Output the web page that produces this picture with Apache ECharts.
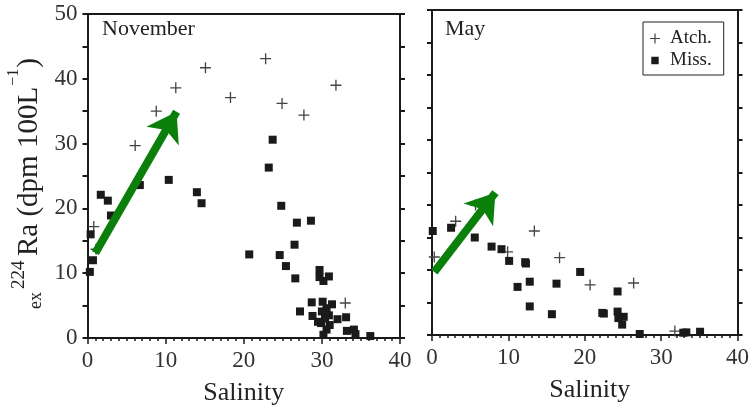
<!DOCTYPE html>
<html>
<head>
<meta charset="utf-8">
<script src="https://cdn.jsdelivr.net/npm/echarts@6/dist/echarts.min.js"></script>
<style>
  html, body { margin: 0; padding: 0; background: #fff; }
  #chart { width: 752px; height: 411px; }
</style>
</head>
<body>
<div id="chart"></div>
<script>
// November panel
var novAtchX = [0.8, 1.1, 6.1, 8.8, 11.3, 15.1, 18.3, 22.8, 24.9, 27.7, 31.8, 33.0]
var novAtchY = [17.2, 13.7, 29.7, 35.0, 38.6, 41.7, 37.1, 43.1, 36.2, 34.4, 39.0, 5.4]
var novMissX = [0.3, 0.7, 0.4, 1.7, 2.6, 3.0, 6.7, 10.4, 14.0, 14.6, 20.7, 23.2, 23.7, 24.8, 24.6, 25.4,
  26.5, 26.6, 26.8, 28.6, 29.7, 29.7, 30.9, 30.2, 28.7, 27.2, 30.1, 31.3, 30.6, 30.0, 28.8, 30.9,
  29.5, 29.9, 30.6, 30.2, 32.0, 33.1, 33.2, 34.1, 34.3, 36.2, 30.4, 31.0]
var novMissY = [10.2, 12.0, 16.0, 22.1, 21.2, 18.9, 23.6, 24.4, 22.5, 20.8, 12.9, 26.3, 30.6, 20.4, 12.8, 11.1,
  14.4, 9.2, 17.8, 18.1, 10.5, 9.4, 9.5, 8.8, 5.5, 4.1, 5.6, 5.2, 4.6, 4.1, 3.4, 3.5,
  2.5, 2.3, 1.3, 0.5, 2.9, 3.2, 1.1, 1.3, 0.6, 0.3, 3.0, 2.0]
var novArrow = [[1.0, 13.1], [11.4, 34.9]]

// May panel
var mayAtchX = [0.3, 3.1, 5.7, 9.9, 13.4, 16.7, 20.7, 26.4, 31.8]
var mayAtchY = [12.0, 17.5, 20.0, 12.8, 16.0, 11.9, 7.7, 8.0, 0.6]
var mayMissX = [0.1, 2.5, 5.6, 7.8, 9.1, 10.1, 12.2, 12.3, 11.2, 12.8, 12.8, 15.7, 16.3, 19.4, 22.3, 22.5,
  24.3, 24.3, 25.1, 24.4, 24.9, 27.2, 32.9, 33.3, 35.1]
var mayMissY = [16.0, 16.5, 15.0, 13.6, 13.2, 11.4, 11.2, 11.0, 7.4, 8.2, 4.4, 3.2, 7.9, 9.7, 3.4, 3.3,
  6.7, 3.6, 2.8, 2.6, 1.6, 0.15, 0.35, 0.4, 0.5]
var mayArrow = [[0.3, 9.7], [8.3, 21.9]]

var xTicks = { min: 0, max: 40, interval: 10 }
var yTicks = { min: 0, max: 50, interval: 10 }

var serif = "'Liberation Serif', 'Times New Roman', serif"
var ink = '#1a1a1a'
var green = '#0a800a'
var plusPath = 'path://M4.4,0h1.2v10h-1.2zM0,4.4h10v1.2h-10z'
// small square, padded with two tiny corner dots so the legend keeps the box at 10x10
var squarePath = 'path://M1.3,1.3h7.4v7.4h-7.4zM0,0h0.01v0.01h-0.01zM9.99,9.99h0.01v0.01h-0.01z'

function pairs(xs, ys) {
  return xs.map(function(x, i) { return [x, ys[i]] })
}

function textWidth(str, size) {
  var ctx = document.createElement('canvas').getContext('2d')
  ctx.font = size + 'px ' + serif
  return ctx.measureText(str).width
}

function xAxis(grid, pos, labels, shift) {
  return {
    type: 'value', gridIndex: grid, position: pos,
    min: xTicks.min, max: xTicks.max, interval: xTicks.interval,
    name: labels ? 'Salinity' : '', nameLocation: 'middle', nameGap: 42,
    nameTextStyle: { fontFamily: serif, fontSize: 26, color: '#222', padding: [0, 0, 0, shift || 0] },
    axisLine: { show: true, onZero: false, lineStyle: { color: ink, width: 2 } },
    axisTick: { show: labels, length: 6, lineStyle: { color: ink, width: 1.5 } },
    minorTick: { show: labels, splitNumber: 10, length: 3, lineStyle: { color: ink, width: 1.5 } },
    axisLabel: { show: labels, fontFamily: serif, fontSize: 23, color: '#333', margin: 11 },
    splitLine: { show: false }
  }
}

function yAxis(grid, pos, labels) {
  return {
    type: 'value', gridIndex: grid, position: pos,
    min: yTicks.min, max: yTicks.max, interval: yTicks.interval,
    axisLine: { show: true, onZero: false, lineStyle: { color: ink, width: 2 } },
    axisTick: { show: true, length: 5, lineStyle: { color: ink, width: 2 } },
    minorTick: { show: true, splitNumber: 2, length: 5, lineStyle: { color: ink, width: 2 } },
    axisLabel: { show: labels, fontFamily: serif, fontSize: 23, color: '#333', margin: 10 },
    splitLine: { show: false }
  }
}

function arrow(pts) {
  return {
    silent: true,
    symbol: ['none', 'arrow'],
    symbolSize: 28,
    label: { show: false },
    lineStyle: { color: green, width: 8, type: 'solid', opacity: 1 },
    data: [[{ coord: pts[0] }, { coord: pts[1] }]]
  }
}

var mainText = 'Ra (dpm 100L'
var mainSize = 29
var mainW = textWidth(mainText, mainSize)
var supW = textWidth('\u22121', 16)

var myChart = echarts.init(document.getElementById('chart'))
var option = {
  animation: false,
  backgroundColor: '#fff',
  textStyle: { fontFamily: serif },
  grid: [
    { left: 87.5, right: 352, top: 14, bottom: 73 },
    { left: 432, right: 9, top: 10, bottom: 76 }
  ],
  xAxis: [
    xAxis(0, 'bottom', true), xAxis(0, 'top', false),
    xAxis(1, 'bottom', true, 10), xAxis(1, 'top', false)
  ],
  yAxis: [
    yAxis(0, 'left', true), yAxis(0, 'right', false),
    yAxis(1, 'left', false), yAxis(1, 'right', false)
  ],
  legend: {
    orient: 'vertical',
    left: 643, top: 22,
    padding: [7, 12, 5, 7],
    itemGap: 3,
    itemWidth: 20, itemHeight: 10,
    borderColor: '#222', borderWidth: 1,
    textStyle: { fontFamily: serif, fontSize: 19, color: '#222' },
    data: [
      { name: 'Atch.', icon: plusPath },
      { name: 'Miss.', icon: squarePath }
    ]
  },
  graphic: [
    { type: 'text', x: 102, y: 18, style: { text: 'November', fontFamily: serif, fontSize: 22, fill: '#222' } },
    { type: 'text', x: 445, y: 18, style: { text: 'May', fontFamily: serif, fontSize: 22, fill: '#222' } },
    // y-axis title, rotated
    { type: 'text', x: 29, y: 256, rotation: Math.PI / 2,
      style: { text: mainText, fontFamily: serif, fontSize: mainSize, fill: '#222', align: 'left', verticalAlign: 'middle' } },
    { type: 'text', x: 14, y: 255 - mainW, rotation: Math.PI / 2,
      style: { text: '\u22121', fontFamily: serif, fontSize: 16, fill: '#222', align: 'left', verticalAlign: 'middle' } },
    { type: 'text', x: 29, y: 254 - mainW - supW, rotation: Math.PI / 2,
      style: { text: ')', fontFamily: serif, fontSize: mainSize, fill: '#222', align: 'left', verticalAlign: 'middle' } },
    { type: 'text', x: 19, y: 289, rotation: Math.PI / 2,
      style: { text: '224', fontFamily: serif, fontSize: 19, fill: '#222', align: 'left', verticalAlign: 'middle' } },
    { type: 'text', x: 36, y: 309, rotation: Math.PI / 2,
      style: { text: 'ex', fontFamily: serif, fontSize: 18, fill: '#222', align: 'left', verticalAlign: 'middle' } }
  ],
  series: [
    {
      name: 'Atch.', type: 'scatter', xAxisIndex: 0, yAxisIndex: 0,
      symbol: plusPath, symbolSize: 11,
      itemStyle: { color: '#444', opacity: 1 },
      data: pairs(novAtchX, novAtchY)
    },
    {
      name: 'Miss.', type: 'scatter', xAxisIndex: 0, yAxisIndex: 0,
      symbol: 'rect', symbolSize: 8,
      itemStyle: { color: ink, opacity: 1 },
      data: pairs(novMissX, novMissY),
      markLine: arrow(novArrow)
    },
    {
      name: 'Atch.', type: 'scatter', xAxisIndex: 2, yAxisIndex: 2,
      symbol: plusPath, symbolSize: 11,
      itemStyle: { color: '#444', opacity: 1 },
      data: pairs(mayAtchX, mayAtchY)
    },
    {
      name: 'Miss.', type: 'scatter', xAxisIndex: 2, yAxisIndex: 2,
      symbol: 'rect', symbolSize: 8,
      itemStyle: { color: ink, opacity: 1 },
      data: pairs(mayMissX, mayMissY),
      markLine: arrow(mayArrow)
    }
  ]
}
option && myChart.setOption(option)
</script>
</body>
</html>
